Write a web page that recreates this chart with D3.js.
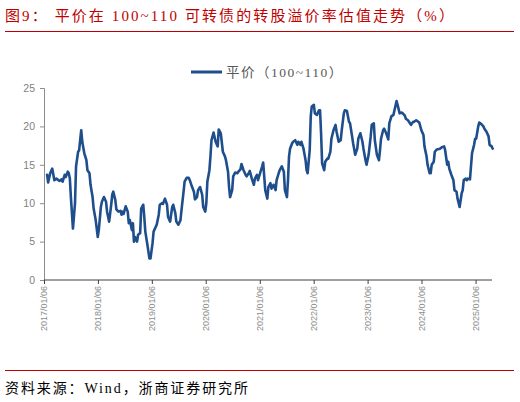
<!DOCTYPE html>
<html><head><meta charset="utf-8">
<script src="https://cdn.jsdelivr.net/npm/d3@7"></script>
<style>body{margin:0;background:#fff;} svg{display:block;background:#fff}</style>
</head><body><svg id="c" width="520" height="402"></svg>
<script>
const titleText = "图9：  平价在 100~110 可转债的转股溢价率估值走势（%）";
const sourceText = "资料来源：Wind，浙商证券研究所";
const seriesName = "平价（100~110）";
const startDate = "2017-01-06";
// weeks since 2017-01-06 (weekly observations)
const weeks = [3,4,6,8,10,12,15,17,18,20,21,23,24,25,26,28,30,31,33,34,36,37,39,41,42,44,45,47,48,50,52,53,55,56,58,60,61,63,65,66,67,69,70,72,74,75,76,77,79,81,82,83,85,86,87,88,90,91,93,94,96,97,98,100,102,103,105,106,109,111,112,114,115,117,119,120,122,124,125,127,128,130,132,133,135,136,138,140,141,143,145,146,148,149,151,153,154,156,157,158,160,161,162,164,166,168,169,171,173,175,176,178,179,180,182,183,185,187,188,190,191,193,195,196,198,199,201,203,204,206,207,209,211,212,214,216,217,219,220,222,224,225,227,228,230,232,233,235,236,237,238,240,241,243,245,246,248,249,251,253,254,255,257,258,259,261,262,264,266,267,268,269,271,272,274,275,277,278,280,282,283,285,287,288,290,291,293,295,296,298,299,301,303,304,306,308,309,311,312,314,316,317,319,320,322,324,325,326,328,329,331,333,334,336,338,339,341,342,344,346,347,349,350,352,354,355,357,358,360,362,363,365,367,368,370,371,373,374,375,377,378,380,383,385,387,388,390,391,392,394,396,397,399,400,402,404,405,406,408,409,410,412,413,414,416,417,418,420,421,423,425,426,428,430,431,433,434];
const values = [13.7,12.7,13.9,14.5,13.0,13.2,12.9,13.1,12.8,13.7,13.4,14.1,13.9,13.2,10.8,6.7,10.0,14.8,16.7,16.9,19.5,18.0,16.5,15.6,14.3,13.9,12.4,10.8,9.3,7.8,5.6,6.5,9.5,10.2,10.8,10.2,8.9,7.6,9.8,11.1,11.5,10.4,9.2,8.9,9.0,8.5,8.9,8.6,9.6,8.9,7.4,7.8,6.5,7.4,5.0,5.6,5.0,5.9,6.1,9.3,9.8,8.2,6.3,4.6,2.8,2.8,4.8,6.3,7.2,8.5,9.8,10.0,9.9,10.6,9.8,8.2,7.6,9.5,9.8,8.7,7.6,7.2,7.8,9.1,11.5,12.8,13.3,13.3,13.0,12.2,11.5,10.5,10.8,11.7,12.1,11.1,9.5,8.9,10.0,12.8,14.3,16.1,18.2,19.2,18.0,17.4,19.6,19.1,16.7,16.1,15.6,14.1,12.1,10.8,11.7,13.5,14.0,13.9,14.1,14.4,15.1,14.3,13.7,13.5,13.9,14.2,13.2,12.4,13.2,13.7,13.0,13.9,14.8,15.3,11.7,10.6,12.1,12.6,11.9,12.4,11.7,13.0,13.9,14.3,14.8,14.1,11.7,10.8,13.0,16.1,17.1,17.8,18.0,18.2,17.6,18.0,17.6,18.0,17.1,15.6,14.3,13.9,16.9,21.3,22.6,22.8,21.7,21.5,22.1,22.1,19.1,15.2,14.3,15.4,15.8,15.8,16.7,18.4,19.5,20.2,19.3,18.0,18.2,19.5,21.7,22.1,22.0,20.6,20.4,18.7,17.8,16.3,17.1,18.4,19.1,18.0,17.1,15.6,15.0,16.3,18.7,20.2,20.4,18.2,16.3,15.6,16.9,18.4,19.5,19.7,19.1,18.3,20.4,21.3,21.5,22.1,23.3,22.8,21.7,21.8,21.7,21.4,21.0,20.8,20.4,20.2,20.6,20.6,20.8,20.6,20.5,19.5,18.9,17.4,16.1,15.0,13.9,13.9,15.0,15.4,16.7,17.0,17.1,17.3,17.4,16.9,15.0,15.4,14.5,13.7,13.0,11.7,11.5,10.6,9.5,11.3,11.7,13.0,13.2,13.0,13.2,13.1,14.8,16.5,17.6,18.4,18.4,20.0,20.5,20.3,20.0,19.7,19.3,18.7,17.6,17.4,17.1];
const yTicks = [0,5,10,15,20,25];
const xTickLabels = ["2017/01/06","2018/01/06","2019/01/06","2020/01/06","2021/01/06","2022/01/06","2023/01/06","2024/01/06","2025/01/06"];

const parseISO = d3.timeParse("%Y-%m-%d");
const parseTick = d3.timeParse("%Y/%m/%d");
const fmtTick = d3.timeFormat("%Y/%m/%d");
const start = parseISO(startDate);
const data = weeks.map((w,i)=>({date:d3.timeDay.offset(start, w*7), v:values[i]}));

const svg = d3.select("#c");
const RED = "#c00000";
const serifCJK = "'Liberation Serif','Noto Sans CJK SC',serif";

// Title
svg.append("text").attr("x",5).attr("y",21)
  .attr("font-family",serifCJK).attr("font-size",15).attr("letter-spacing",2.1)
  .attr("fill",RED).text(titleText);
svg.append("line").attr("x1",5).attr("x2",514).attr("y1",31.5).attr("y2",31.5)
  .attr("stroke",RED).attr("stroke-width",1);

const x = d3.scaleTime().domain([start, data[data.length-1].date]).range([44, 492.7]);
const y = d3.scaleLinear().domain([0,25]).range([280, 88]);

// Y axis
const ya = svg.append("g").attr("transform","translate(44,0)")
  .call(d3.axisLeft(y).tickValues(yTicks).tickSize(4).tickPadding(5));
ya.select(".domain").attr("stroke","#8c8c8c");
ya.selectAll(".tick line").attr("stroke","#8c8c8c");
ya.selectAll(".tick text").attr("fill","#7f7f7f").attr("font-size",10.5)
  .attr("font-family","'Liberation Sans',Arial,sans-serif");

// X axis
const xa = svg.append("g").attr("transform","translate(0,280)")
  .call(d3.axisBottom(x).tickValues(xTickLabels.map(parseTick)).tickFormat(fmtTick).tickSize(4).tickSizeOuter(0));
xa.select(".domain").attr("stroke","#404040").attr("d","M44,0H492");
xa.selectAll(".tick line").attr("stroke","#404040");
xa.selectAll(".tick text").attr("fill","#8c8c8c").attr("font-size",9)
  .attr("font-family","'Liberation Sans',Arial,sans-serif")
  .attr("transform","rotate(-90)").attr("text-anchor","end")
  .attr("x",-6).attr("y",0).attr("dy","0.32em");

// Line
svg.append("path").datum(data)
  .attr("fill","none").attr("stroke","#1f4e8c").attr("stroke-width",2.6)
  .attr("stroke-linejoin","round").attr("stroke-linecap","round")
  .attr("d", d3.line().x(d=>x(d.date)).y(d=>y(d.v)));

// Legend
svg.append("line").attr("x1",191).attr("x2",222).attr("y1",72).attr("y2",72)
  .attr("stroke","#1f4e8c").attr("stroke-width",3);
svg.append("text").attr("x",226).attr("y",76.5)
  .attr("font-family",serifCJK).attr("font-size",13.5).attr("letter-spacing",1.5).attr("fill","#595959").text(seriesName);

// Source
svg.append("line").attr("x1",5).attr("x2",514).attr("y1",370.5).attr("y2",370.5)
  .attr("stroke",RED).attr("stroke-width",1);
svg.append("text").attr("x",5).attr("y",393)
  .attr("font-family",serifCJK).attr("font-size",14).attr("letter-spacing",1.9).attr("fill","#000").text(sourceText);
</script></body></html>
